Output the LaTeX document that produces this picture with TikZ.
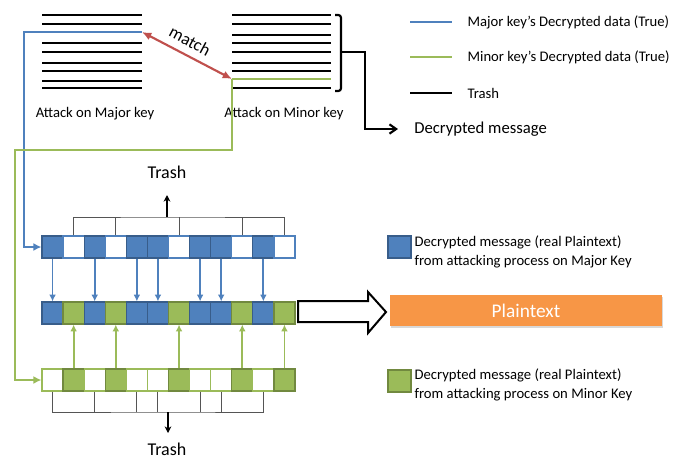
\documentclass[tikz,border=0pt]{standalone}
\usepackage{fontspec}
\setmainfont{Carlito}
\usetikzlibrary{arrows.meta,shadows}
\definecolor{mblue}{HTML}{4F81BD}
\definecolor{mblueD}{HTML}{385D8A}
\definecolor{mgreen}{HTML}{9BBB59}
\definecolor{mgreenD}{HTML}{71893F}
\definecolor{mred}{HTML}{C0504D}
\definecolor{morange}{HTML}{F79646}
\definecolor{treegray}{HTML}{555555}
\begin{document}
\begin{tikzpicture}[x=0.75pt,y=-0.75pt,
  cell/.style={draw, line width=0.9pt, minimum width=15.81pt, minimum height=16.5pt, inner sep=0pt},
  stackline/.style={line width=2pt, black},
  colline/.style={line width=2pt},
  feed/.style={line width=1.6pt, -{Latex[length=6pt,width=6pt]}},
  vb/.style={mblue, line width=1.4pt, -{Latex[length=5pt,width=5pt]}},
  vg/.style={mgreen, line width=1.4pt, -{Latex[length=5pt,width=5pt]}},
  tree/.style={treegray, line width=0.7pt},
  trasharrow/.style={black, line width=0.8pt, -{Stealth[length=5pt,width=5pt]}},
  lbl/.style={font=\fontsize{11}{13}\selectfont, inner sep=1pt},
  bigtxt/.style={font=\fontsize{13.5}{15}\selectfont, inner sep=1pt},
]
\useasboundingbox (0,0) rectangle (689,461);
\fill[white] (0,0) rectangle (689,461);

% ---- top stacks ----
\foreach \y in {15,24,43,52,63,71,81,88} \draw[stackline] (42,\y) -- (142,\y);
\foreach \y in {15,24,35,43,52,63,71,88} \draw[stackline] (232,\y) -- (331,\y);
\coordinate (Lb) at (142,32);
\coordinate (Lb0) at (42,32);
\coordinate (Rg) at (232,79);
\coordinate (Rg1) at (331,79);
\draw[colline, mgreen] (Rg) -- (Rg1);
\draw[colline, mblue] (Lb0) -- (Lb);

\node[lbl] (lblmaj) at (95,114) {Attack on Major key};
\node[lbl] (lblmin) at (284,114) {Attack on Minor key};

% match arrow
\draw[mred, line width=1.6pt, {Latex[length=7pt,width=6pt]}-{Latex[length=7pt,width=6pt]}] (Lb) -- (Rg);
\node[font=\fontsize{13}{15}\selectfont, rotate=-28] (match) at (190,41) {match};

% bracket
\draw[black, line width=1.6pt, rounded corners=2pt] (335,15) -| (341,91) -- (335,91);
\node[font=\fontsize{12.5}{15}\selectfont, anchor=west, inner sep=0pt, xshift=12pt] (decmsg) at (398,129) {Decrypted message};
\coordinate (brk) at (341,52);
\draw[black, line width=1.6pt, -{Straight Barb[length=5pt,width=7pt]}] (brk) -- (365,52) |- ([xshift=-12pt]decmsg.west);

% legend lines
\draw[colline, mblue] (410,22) -- (452,22);
\draw[colline, mgreen] (410,57) -- (452,57);
\draw[colline, black] (410,93) -- (452,93);
\node[lbl, anchor=west] (lg1) at (466,22) {Major key’s Decrypted data (True)};
\node[lbl, anchor=west] (lg2) at (466,57) {Minor key’s Decrypted data (True)};
\node[lbl, anchor=west] (lg3) at (466,93) {Trash};

% ---- cells ----
\foreach \i/\k in {1/1,2/0,3/1,4/0,5/1,6/1,7/0,8/1,9/1,10/0,11/1,12/0}{
  \pgfmathsetmacro{\cx}{42+21.083*(\i-0.5)}
  \ifnum\k=1
    \node[cell, fill=mblue, draw=mblueD] (t\i) at (\cx,247) {};
    \node[cell, fill=mblue, draw=mblueD] (m\i) at (\cx,313) {};
    \node[cell, fill=white, draw=mgreen] (b\i) at (\cx,380) {};
  \else
    \node[cell, fill=white, draw=mblue] (t\i) at (\cx,247) {};
    \node[cell, fill=mgreen, draw=mgreenD] (m\i) at (\cx,313) {};
    \node[cell, fill=mgreen, draw=mgreenD] (b\i) at (\cx,380) {};
  \fi
}
\foreach \i in {1,3,5,6,8,9,11} \draw[vb] (t\i.south) -- (m\i.north);
\foreach \i in {2,4,7,10,12} \draw[vg] (b\i.north) -- (m\i.south);

% feeder lines
\draw[feed, mblue] (Lb0) -- (24,32) |- (t1.west);
\draw[feed, mgreen] (Rg) -- (232,150) -- (15,150) |- (b1.west);

% top trash tree
\coordinate (tt) at (167,217);
\coordinate (ttop) at (167,195);
\draw[tree] (t2.north) |- (tt) -| (t12.north);
\foreach \i in {4,7,10} \draw[tree] (t\i.north) -- (t\i.north |- tt);
\draw[trasharrow] (tt) -- (ttop);
\node[bigtxt] (trash1) at (167,172) {Trash};

% bottom trash tree
\coordinate (bt) at (168,412);
\coordinate (bbot) at (168,433);
\draw[tree] (b1.south) |- (bt) -| (b11.south);
\foreach \i in {3,5,6,8,9} \draw[tree] (b\i.south) -- (b\i.south |- bt);
\draw[trasharrow] (bt) -- (bbot);
\node[bigtxt] (trash2) at (167,449) {Trash};

% big hollow arrow
\draw[black, line width=1.5pt, fill=white, line join=miter] (298,301) -- (368,301) -- (368,292) -- (386,312) -- (368,333) -- (368,322) -- (298,322) -- cycle;

% plaintext
\node[fill=morange, minimum width=204pt, minimum height=23.25pt, inner sep=0pt,
      drop shadow={opacity=0.3, shadow xshift=1pt, shadow yshift=-1.5pt},
      text=white, font=\fontsize{14.5}{16}\selectfont] (plain) at (526,310.5) {Plaintext};

% cell legends
\node[cell, minimum width=17.25pt, fill=mblue, draw=mblueD] (lgb) at (399.5,247) {};
\node[lbl, anchor=west, align=left, font=\fontsize{11}{14.25}\selectfont] (lgbt) at (413,252) {Decrypted message (real Plaintext)\\from attacking process on Major Key};
\node[cell, minimum width=17.25pt, fill=mgreen, draw=mgreenD] (lgg) at (399.5,381) {};
\node[lbl, anchor=west, align=left, font=\fontsize{11}{14.25}\selectfont] (lggt) at (413,385) {Decrypted message (real Plaintext)\\from attacking process on Minor Key};
\end{tikzpicture}
\end{document}
